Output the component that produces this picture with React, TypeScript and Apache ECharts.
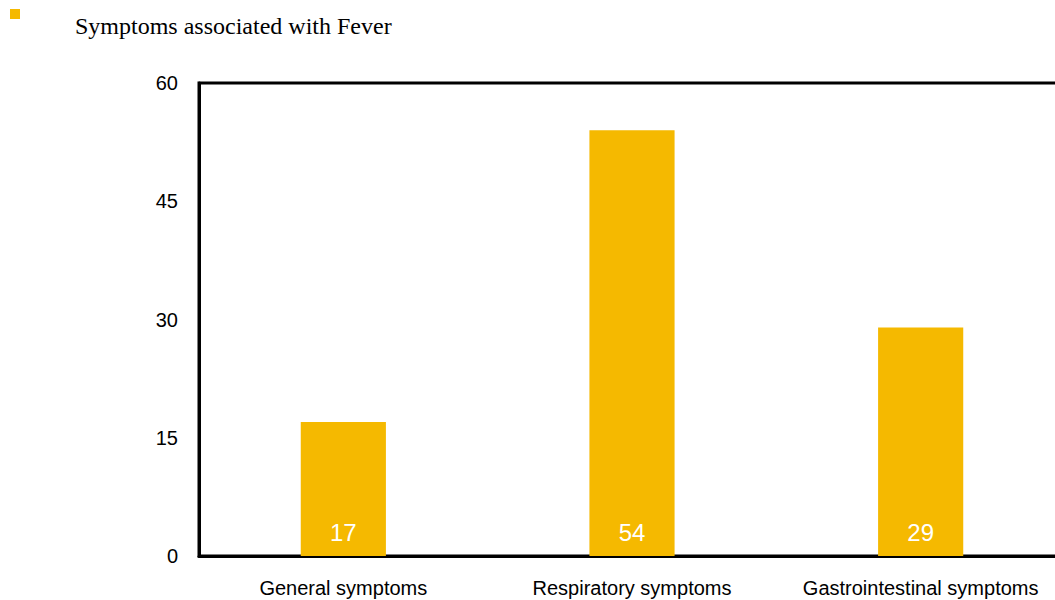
import React, { useEffect, useRef } from "react";
import * as echarts from "echarts";

const categories = ["General symptoms", "Respiratory symptoms", "Gastrointestinal symptoms"];
const values = [17, 54, 29];
const seriesName = "Symptoms associated with Fever";
const yTicks = { min: 0, max: 60, interval: 15 };
const barColor = "#F5B900";

export default function App() {
  const ref = useRef<HTMLDivElement>(null);

  useEffect(() => {
    if (!ref.current) return;
    const chart = echarts.init(ref.current, null, { renderer: "svg" });
    chart.setOption({
      animation: false,
      // series key: small swatch with the series name set well to its right
      graphic: [
        {
          type: "rect",
          left: 10,
          top: 9,
          shape: { width: 10, height: 10 },
          style: { fill: barColor },
        },
        {
          type: "text",
          left: 75,
          top: 14,
          style: {
            text: seriesName,
            fill: "#000",
            font: "24px 'Liberation Serif', 'Times New Roman', serif",
          },
        },
      ],
      grid: {
        left: 199,
        right: 0,
        top: 83,
        bottom: 44,
        show: true,
        borderColor: "#000",
        borderWidth: 3,
        containLabel: false,
      },
      xAxis: {
        type: "category",
        data: categories,
        axisLine: { show: true, lineStyle: { color: "#000", width: 3 } },
        axisTick: { show: false },
        axisLabel: {
          interval: 0,
          color: "#000",
          fontSize: 20,
          fontFamily: "Liberation Sans, Arial, sans-serif",
          margin: 22,
        },
      },
      yAxis: {
        type: "value",
        min: yTicks.min,
        max: yTicks.max,
        interval: yTicks.interval,
        axisLine: { show: true, lineStyle: { color: "#000", width: 3 } },
        axisTick: { show: false },
        splitLine: { show: false },
        axisLabel: {
          color: "#000",
          fontSize: 20,
          fontFamily: "Liberation Sans, Arial, sans-serif",
          margin: 21,
        },
      },
      series: [
        {
          name: seriesName,
          type: "bar",
          data: values,
          barWidth: "29.5%",
          itemStyle: { color: barColor },
          label: {
            show: true,
            position: "insideBottom",
            distance: 12,
            color: "#fff",
            fontSize: 24,
            fontFamily: "Liberation Sans, Arial, sans-serif",
          },
        },
      ],
    });
    return () => chart.dispose();
  }, []);

  return (
    <div style={{ position: "absolute", left: 0, top: 0, width: 1055, height: 600, overflow: "hidden" }}>
      <div ref={ref} style={{ width: 1065, height: 600 }} />
    </div>
  );
}
